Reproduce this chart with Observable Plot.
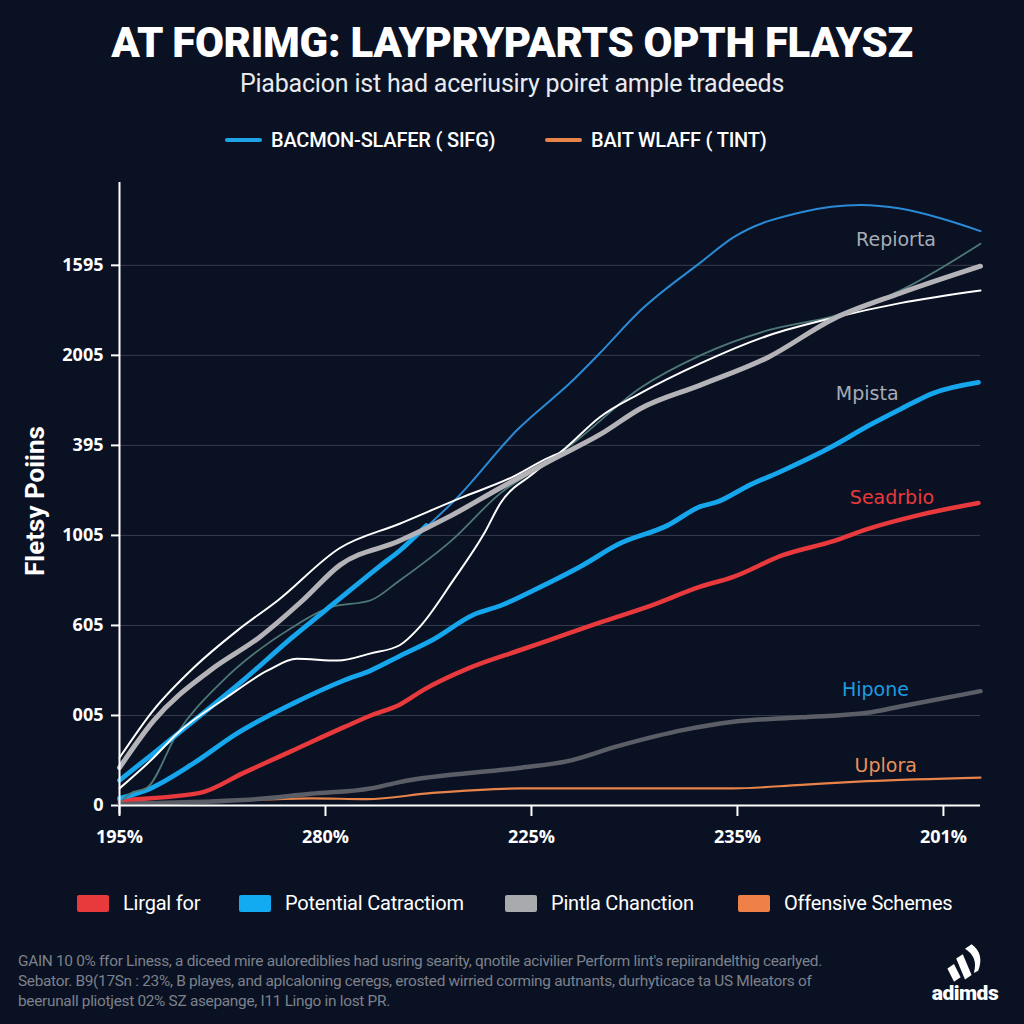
<!DOCTYPE html>
<html>
<head>
<meta charset="utf-8">
<script src="https://cdn.jsdelivr.net/npm/d3@7"></script>
<script src="https://cdn.jsdelivr.net/npm/@observablehq/plot@0.6"></script>
<style>
  html, body { margin: 0; padding: 0; }
  body { width: 1024px; height: 1024px; background: #0a1122; position: relative; overflow: hidden; font-family: "Roboto", "Open Sans", sans-serif; color: #fff; }
  .abs { position: absolute; }
  #title { left: 0; width: 1024px; top: 18px; text-align: center; font-family: "Roboto", sans-serif; font-weight: 900; font-size: 42px; letter-spacing: -0.3px; color: #fff; }
  #subtitle { left: 0; width: 1024px; top: 69px; text-align: center; font-family: "Roboto", sans-serif; font-size: 25px; color: #e8eaee; letter-spacing: -0.2px; }
  .tl { top: 127px; height: 26px; display: flex; align-items: center; font-family: "Roboto", sans-serif; font-weight: 500; font-size: 20px; color: #fff; letter-spacing: -0.2px; }
  .tl .sw { width: 37px; height: 4px; border-radius: 2px; margin-right: 9px; }
  .bl { top: 890px; height: 26px; display: flex; align-items: center; font-family: "Roboto", sans-serif; font-size: 20px; color: #fff; letter-spacing: -0.2px; }
  .bl .sw { width: 32px; height: 17px; border-radius: 2px; margin-right: 14px; }
  #foot { left: 18px; top: 951px; width: 880px; font-family: "Roboto", sans-serif; font-size: 15.4px; line-height: 20px; color: #7c818c; letter-spacing: -0.3px; }
  #ytitle { left: 35px; top: 501px; transform: translate(-50%, -50%) rotate(-90deg); font-family: "Roboto", sans-serif; font-weight: 700; font-size: 26px; color: #fff; white-space: nowrap; }
  #chart { left: 0; top: 170px; }
  #logo { left: 925px; top: 944px; width: 80px; text-align: center; font-family: "Roboto", sans-serif; font-weight: 900; font-size: 21px; letter-spacing: -0.5px; color: #fff; }
</style>
</head>
<body>
<div id="title" class="abs">AT FORIMG: LAYPRYPARTS OPTH FLAYSZ</div>
<div id="subtitle" class="abs">Piabacion ist had aceriusiry poiret ample tradeeds</div>
<div class="abs tl" style="left:225px"><span class="sw" style="background:#1ea3e6"></span>BACMON-SLAFER ( SIFG)</div>
<div class="abs tl" style="left:545px"><span class="sw" style="background:#e8834a"></span>BAIT WLAFF ( TINT)</div>
<div id="ytitle" class="abs">Fletsy Poiins</div>
<div id="chart" class="abs"></div>
<div class="abs bl" style="left:77px"><span class="sw" style="background:#e8393d"></span>Lirgal for</div>
<div class="abs bl" style="left:239px"><span class="sw" style="background:#12aaf0"></span>Potential Catractiom</div>
<div class="abs bl" style="left:505px"><span class="sw" style="background:#a9aaae"></span>Pintla Chanction</div>
<div class="abs bl" style="left:738px"><span class="sw" style="background:#ee8048"></span>Offensive Schemes</div>
<div id="foot" class="abs">GAIN 10 0% ffor Liness, a diceed mire aulorediblies had usring searity, qnotile acivilier Perform lint's repiirandelthig cearlyed.<br>Sebator. B9(17Sn : 23%, B playes, and aplcaloning ceregs, erosted wirried corming autnants, durhyticace ta US Mleators of<br>beerunall pliotjest 02% SZ asepange, I11 Lingo in lost PR.</div>
<div id="logo" class="abs">
  <svg width="44" height="38" viewBox="0 0 40 34" style="display:block;margin:0 auto 1px auto">
    <path d="M4 22 L10 18 L16 30 L10 34 Z" fill="#fff"/>
    <path d="M12 13 L18 9 L26 28 L20 32 Z" fill="#fff"/>
    <path d="M20 4 L26 0 C34 6 36 14 32 24 L28 26 C31 16 28 9 20 4 Z" fill="#fff"/>
  </svg>
  <div style="margin-top:-2px">adimds</div>
</div>
<script>
// ---- data (x in tick-index units, y in chart units; ticks every 100) ----
const xTickValues = [0, 1, 2, 3, 4];
const xTickLabels = ["195%", "280%", "225%", "235%", "201%"];
const yTickValues = [0, 100, 200, 300, 400, 500, 600];
const yTickLabels = ["0", "005", "605", "1005", "395", "2005", "1595"];

const orangeLine = [[0,1],[0.60,6],[0.93,8],[1.20,7],[1.52,14],[1.95,19],[2.98,19],[3.31,23],[3.63,27],[4.18,31]];
const darkGrayLine = [[0,2],[0.60,6],[0.93,13],[1.22,19],[1.36,26],[1.95,42],[2.17,49],[2.42,66],[2.74,84],[2.98,93],[3.31,98],[3.63,103],[3.79,110],[4.18,127]];
const redLine = [[0,6],[0.39,14],[0.60,36],[0.84,61],[1.09,87],[1.22,100],[1.36,112],[1.48,129],[1.69,152],[1.95,173],[2.09,184],[2.33,203],[2.58,222],[2.82,243],[2.98,254],[3.22,278],[3.47,294],[3.63,307],[3.87,322],[4.17,336]];
const blueLowerLine = [[0,8],[0.13,17],[0.36,47],[0.57,80],[0.84,113],[1.09,139],[1.22,150],[1.36,166],[1.52,184],[1.72,212],[1.85,222],[2.01,239],[2.25,267],[2.42,290],[2.66,311],[2.82,332],[2.90,337],[3.06,356],[3.22,372],[3.47,400],[3.63,421],[3.79,440],[3.95,458],[4.17,470]];
const tealLine = [[0,2],[0.05,13],[0.135,20],[0.28,80],[0.49,136],[0.84,198],[1.02,220],[1.22,228],[1.36,250],[1.61,294],[1.85,347],[2.04,376],[2.20,402],[2.53,464],[2.82,500],[3.15,528],[3.47,544],[3.79,572],[4.18,624]];
const thinBlueLine = [[1.36,283],[1.64,342],[1.93,417],[2.20,472],[2.33,502],[2.53,550],[2.82,603],[2.98,631],[3.31,659],[3.60,667],[3.79,663],[3.99,652],[4.18,638]];
const cyanUpperLine = [[0,28],[0.165,58],[0.36,94],[0.60,139],[0.84,187],[1.06,228],[1.27,267],[1.36,283],[1.49,311]];
const whiteLowerLine = [[0,19],[0.165,53],[0.28,80],[0.52,120],[0.72,150],[0.86,163],[1.06,161],[1.22,169],[1.36,178],[1.46,199],[1.62,250],[1.77,302],[1.85,336],[2.01,369],[2.17,398],[2.33,431],[2.53,458],[2.82,491],[3.15,522],[3.47,542],[3.79,558],[4.18,572]];
const whiteUpperLine = [[0,53],[0.165,106],[0.36,153],[0.57,194],[0.77,228],[1.07,286],[1.36,313],[1.66,342],[1.90,364],[2.09,387],[2.17,394]];
const grayThickLine = [[0,42],[0.165,94],[0.44,150],[0.68,187],[0.89,228],[1.07,267],[1.36,294],[1.61,322],[1.85,353],[2.09,383],[2.34,413],[2.53,441],[2.82,467],[3.15,498],[3.47,541],[3.79,569],[4.18,599]];

const inlineLabels = ["Repiorta", "Mpista", "Seadrbio", "Hipone", "Uplora"];
const inlineLabelX = [3.77, 3.63, 3.75, 3.67, 3.72];
const inlineLabelY = [628, 457, 342, 128, 44];
const inlineLabelColors = ["#a7acb6", "#a7acb6", "#e8393d", "#1e9be0", "#e8915a"];

// ---- build ----
const series = [
  {id: "orange", pts: orangeLine, color: "#e8834a", w: 2.2},
  {id: "darkgray", pts: darkGrayLine, color: "#5b5e66", w: 4.5},
  {id: "red", pts: redLine, color: "#e8393d", w: 4.5},
  {id: "blueLower", pts: blueLowerLine, color: "#16a6ee", w: 4.8},
  {id: "teal", pts: tealLine, color: "#4d7878", w: 1.8},
  {id: "thinBlue", pts: thinBlueLine, color: "#2a8ad6", w: 2},
  {id: "cyanUpper", pts: cyanUpperLine, color: "#16a6ee", w: 4.8},
  {id: "whiteLower", pts: whiteLowerLine, color: "#ffffff", w: 2},
  {id: "whiteUpper", pts: whiteUpperLine, color: "#ffffff", w: 2},
  {id: "grayThick", pts: grayThickLine, color: "#b4b4b8", w: 5}
];

const lineMarks = series.map(s =>
  Plot.line(s.pts.map(([x, y]) => ({x, y})), {x: "x", y: "y", stroke: s.color, strokeWidth: s.w, curve: "monotone-x", strokeLinecap: "round", strokeLinejoin: "round"})
);

const labelRows = inlineLabels.map((t, i) => ({t, x: inlineLabelX[i], y: inlineLabelY[i], c: inlineLabelColors[i]}));

const chart = Plot.plot({
  width: 1024,
  height: 690,
  marginLeft: 119,
  marginRight: 44,
  marginTop: 12,
  marginBottom: 55,
  style: {background: "transparent", color: "#fff", fontFamily: "Open Sans, sans-serif", overflow: "visible"},
  x: {domain: [0, 4.18]},
  y: {domain: [0, 692]},
  marks: [
    Plot.ruleY(yTickValues.slice(1), {x1: 0, x2: 4.18, stroke: "#363d4d", strokeWidth: 1}),
    Plot.axisY({ticks: yTickValues, tickFormat: (d) => yTickLabels[yTickValues.indexOf(d)], tickSize: 8, tickPadding: 8, stroke: "#fff", strokeWidth: 2, fill: "#fff", fontSize: 18, fontWeight: 700, label: null}),
    Plot.axisX({ticks: xTickValues, tickFormat: (d) => xTickLabels[d], tickSize: 11, tickPadding: 14, stroke: "#fff", strokeWidth: 2, fill: "#fff", fontSize: 18, fontWeight: 700, label: null}),
    ...lineMarks,
    Plot.ruleX([0], {y1: -10, y2: 692, stroke: "#fff", strokeWidth: 2}),
    Plot.ruleY([0], {x1: 0, x2: 4.18, stroke: "#fff", strokeWidth: 2}),
    Plot.text(labelRows, {x: "x", y: "y", text: "t", fill: "c", fontSize: 19, fontFamily: "DejaVu Sans, sans-serif", textAnchor: "middle"})
  ]
});
document.getElementById("chart").appendChild(chart);
</script>
</body>
</html>
